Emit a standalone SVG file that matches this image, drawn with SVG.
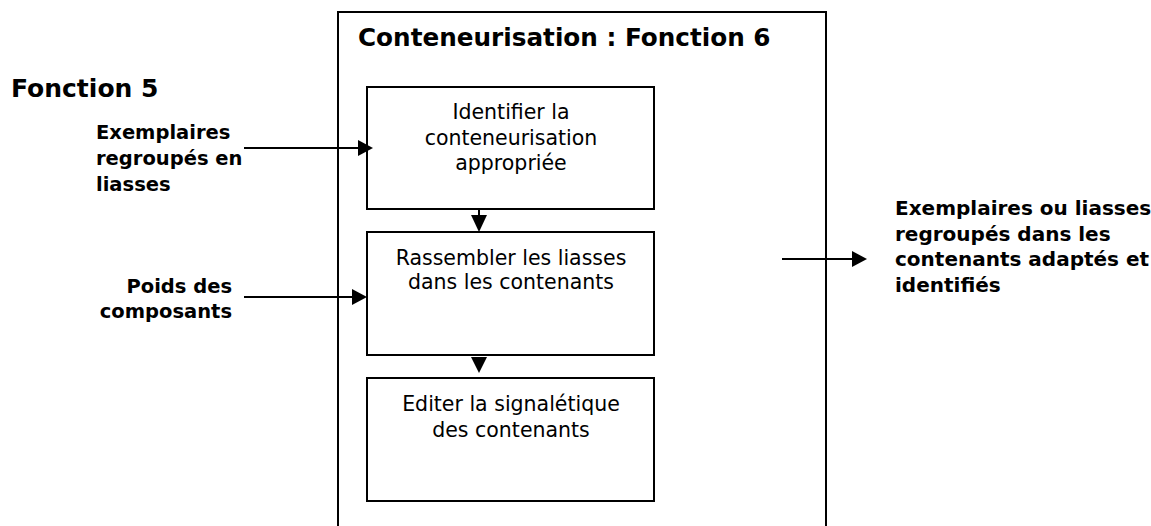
<svg xmlns="http://www.w3.org/2000/svg" width="1151" height="526" viewBox="0 0 1151 526">
<style>
  .box { fill: #fff; stroke: #000; stroke-width: 2; }
  .ln { stroke: #000; stroke-width: 2; fill: none; }
  .hd { fill: #000; }
  .t { font-family: "DejaVu Sans", "Liberation Sans", sans-serif; font-size: 20.5px; fill: #000; text-anchor: middle; }
  .b { font-family: "DejaVu Sans", "Liberation Sans", sans-serif; font-size: 20px; font-weight: bold; fill: #000; }
  .bl { font-size: 19.5px; }
  .h { font-family: "DejaVu Sans", "Liberation Sans", sans-serif; font-size: 25px; font-weight: bold; fill: #000; }
</style>
<rect width="1151" height="526" fill="#fff"/>
<g id="container">
  <rect x="338" y="12" width="488" height="530" class="box"/>
  <text class="h" x="358" y="46" style="font-size:24.7px">Conteneurisation : Fonction 6</text>
</g>
<g id="fonction5">
  <text class="h" x="11" y="97">Fonction 5</text>
</g>
<g id="input1">
  <text class="b bl" x="96" y="139">Exemplaires</text>
  <text class="b bl" x="96" y="165">regroupés en</text>
  <text class="b bl" x="96" y="191">liasses</text>
</g>
<g id="input2">
  <text class="b bl" x="232" y="293" text-anchor="end">Poids des</text>
  <text class="b bl" x="232" y="318" text-anchor="end">composants</text>
</g>
<g id="output">
  <text class="b" x="895" y="215">Exemplaires ou liasses</text>
  <text class="b" x="895" y="241">regroupés dans les</text>
  <text class="b" x="895" y="266">contenants adaptés et</text>
  <text class="b" x="895" y="292">identifiés</text>
</g>
<g id="box1">
  <rect x="367" y="87" width="287" height="122" class="box"/>
  <text class="t" x="511" y="119">Identifier la</text>
  <text class="t" x="511" y="145">conteneurisation</text>
  <text class="t" x="511" y="170">appropriée</text>
</g>
<g id="box2">
  <rect x="367" y="232" width="287" height="123" class="box"/>
  <text class="t" x="511" y="265">Rassembler les liasses</text>
  <text class="t" x="511" y="289">dans les contenants</text>
</g>
<g id="box3">
  <rect x="367" y="378" width="287" height="123" class="box"/>
  <text class="t" x="511" y="411">Editer la signalétique</text>
  <text class="t" x="511" y="437">des contenants</text>
</g>
<g id="connectors">
  <line class="ln" x1="244" y1="148" x2="360" y2="148"/>
  <polygon class="hd" points="358,140 373,148 358,156"/>
  <line class="ln" x1="244" y1="297" x2="354" y2="297"/>
  <polygon class="hd" points="352,289 367,297 352,305"/>
  <line class="ln" x1="479" y1="209" x2="479" y2="217"/>
  <polygon class="hd" points="471,215 487,215 479,232"/>
  <polygon class="hd" points="471,357 487,357 479,373"/>
  <line class="ln" x1="782" y1="259" x2="854" y2="259"/>
  <polygon class="hd" points="852,251 867,259 852,267"/>
</g>
</svg>
